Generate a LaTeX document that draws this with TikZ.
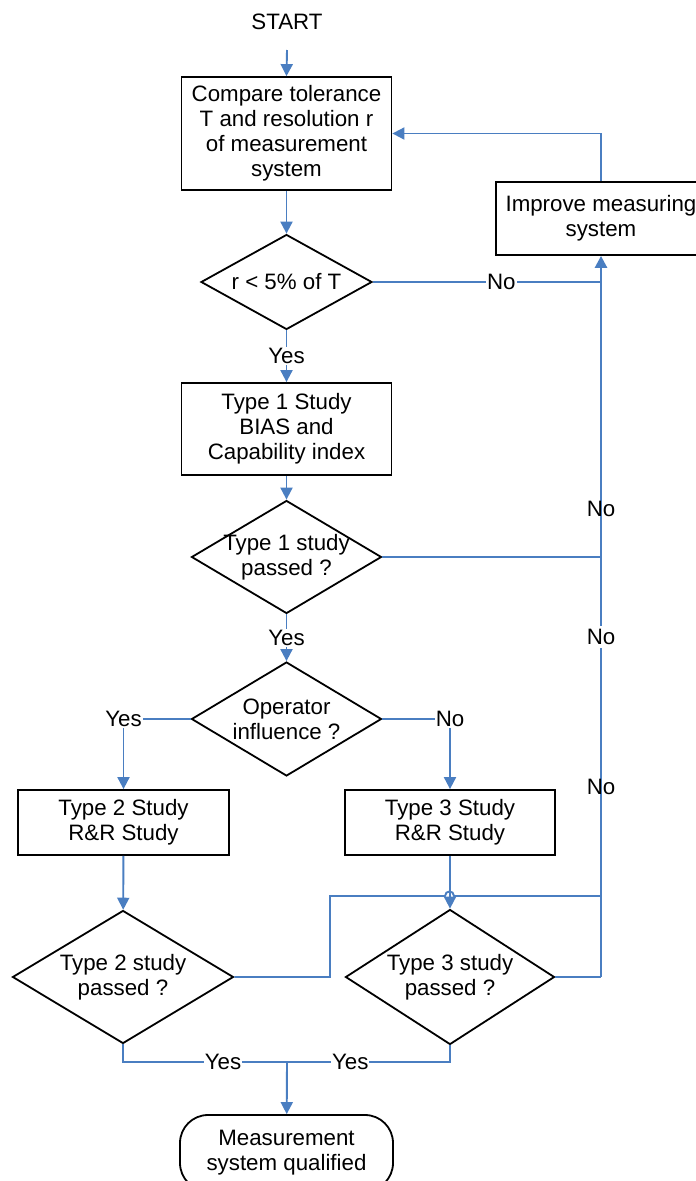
\documentclass[tikz,border=0pt]{standalone}
\usepackage{fontspec}
\setmainfont{Liberation Sans}
\usetikzlibrary{shapes.geometric,arrows.meta,calc}
\definecolor{lblue}{RGB}{74,126,193}
\newcommand\ff{\fontsize{22.3}{25}\selectfont}
\tikzset{
  box/.style={draw=black, line width=1.8pt, rectangle, inner sep=0pt, align=center, font=\ff},
  dia/.style={draw=black, line width=1.8pt, diamond, inner sep=0pt},
  dtxt/.style={align=center, font=\ff, inner sep=0pt},
  conn/.style={draw=lblue, line width=1.9pt},
  arr/.style={conn, -{Triangle[width=12pt,length=12pt]}},
  lbl/.style={font=\ff, fill=white, inner sep=1pt, text=black},
  lbln/.style={font=\ff, inner sep=1pt, text=black}
}
\begin{document}
\begin{tikzpicture}[x=1pt,y=-1pt]
\useasboundingbox (0,0) rectangle (696,1181);
\clip (0,0) rectangle (696,1181);
% nodes
\node[font=\ff, inner sep=0pt] (start) at (287,22) {START};
\coordinate (starte) at (287,50);
\node[box, minimum width=210pt, minimum height=113pt] (b1) at (286.5,133.5) {Compare tolerance\\T and resolution r\\of measurement\\system};
\node[dia, minimum width=171pt, minimum height=95pt] (d1) at (286.5,282) {};
\node[dtxt] at (d1.center) {r < 5\% of T};
\node[box, minimum width=210pt, minimum height=92pt] (b2) at (286.5,429) {Type 1 Study\\BIAS and\\Capability index};
\node[dia, minimum width=190pt, minimum height=113pt] (d2) at (286.5,557) {};
\node[dtxt] at (d2.center) {Type 1 study\\passed ?};
\node[dia, minimum width=190pt, minimum height=114pt] (d3) at (286.5,719) {};
\node[dtxt] at (d3.center) {Operator\\influence ?};
\node[box, minimum width=211pt, minimum height=65pt] (b3) at (123.5,822.5) {Type 2 Study\\R\&R Study};
\node[box, minimum width=210pt, minimum height=65pt] (b4) at (450,822.5) {Type 3 Study\\R\&R Study};
\node[dia, minimum width=221pt, minimum height=133pt] (d4) at (123,977) {};
\node[dtxt] at (d4.center) {Type 2 study\\passed ?};
\node[dia, minimum width=209pt, minimum height=135pt] (d5) at (450,977) {};
\node[dtxt] at (d5.center) {Type 3 study\\passed ?};
\node[box, minimum width=210pt, minimum height=73pt] (imp) at (601,218.5) {Improve measuring\\system};
\node[box, rounded corners=28pt, minimum width=213pt, minimum height=76pt] (term) at (286.5,1153) {Measurement\\system qualified};
% coordinates
\coordinate (r1) at (601,282);
\coordinate (r2) at (601,557);
\coordinate (rv) at (601,977);
\coordinate (k1) at (330,977);
\coordinate (k2) at (330,896);
\coordinate (hl) at (445,896);
\coordinate (hr) at (454,896);
\coordinate (k3) at (601,896);
\coordinate (join) at (287,1062);
% connectors
\draw[arr] (starte) -- (b1.north);
\draw[arr] (b1) -- (d1);
\draw[arr] (d1) -- node[lbl]{Yes} (b2);
\draw[arr] (b2) -- (d2);
\draw[arr] (d2) -- node[lbl]{Yes} (d3);
\draw[arr] (d3.west) -| node[lbl]{Yes} (b3.north);
\draw[arr] (d3.east) -| node[lbl]{No} (b4.north);
\draw[arr] (b3) -- (d4);
\draw[arr] (b4) -- (d5);
\draw[conn] (d1.east) -- node[lbl, pos=0.563]{No} (r1);
\draw[conn] (d2.east) -- (r2);
\draw[conn] (d5.east) -- (rv);
\draw[conn] (d4.east) -- (k1) -- (k2) -- (hl) .. controls ($(hl)+(0,-6)$) and ($(hr)+(0,-6)$) .. (hr) -- (k3);
\draw[arr, line width=2.6pt] (rv) -- (imp.south);
\draw[arr] (imp.north) |- (b1.east);
\node[lbln] at (601,509) {No};
\node[lbl, inner sep=3pt] at (601,637) {No};
\node[lbln] at (601,787) {No};
\draw[conn] (d4.south) |- node[lbl, pos=0.805]{Yes} (join);
\draw[conn] (d5.south) |- node[lbl, pos=0.806]{Yes} (join);
\draw[arr] (join) -- (term);
\end{tikzpicture}
\end{document}
